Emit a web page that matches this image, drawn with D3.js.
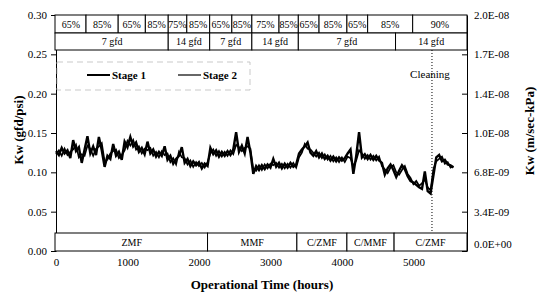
<!DOCTYPE html>
<html>
<head>
<meta charset="utf-8">
<script src="https://cdn.jsdelivr.net/npm/d3@7"></script>
<style>
  body { margin: 0; background: #fff; }
  svg text { font-family: 'Liberation Serif', 'Times New Roman', serif; fill: #000; }
</style>
</head>
<body>
<svg width="543" height="293"></svg>
<script>
var svg = d3.select('svg');
var serif = "'Liberation Serif', 'Times New Roman', serif";

// operating hours of each reading
var hours = [0,40,80,120,160,200,240,280,320,360,400,440,480,520,560,600,640,680,720,760,
  800,840,880,920,960,1000,1040,1080,1120,1160,1200,1240,1280,1320,1360,1400,1440,1480,1520,1560,
  1600,1640,1680,1720,1760,1800,1840,1880,1920,1960,2000,2040,2080,2120,2160,2200,2240,2280,2320,2360,
  2400,2440,2480,2520,2560,2600,2640,2680,2720,2760,2800,2840,2880,2920,2960,3000,3040,3080,3120,3160,
  3200,3240,3280,3320,3360,3400,3440,3480,3520,3560,3600,3640,3680,3720,3760,3800,3840,3880,3920,3960,
  4000,4040,4080,4120,4160,4200,4240,4280,4320,4360,4400,4440,4480,4520,4560,4600,4640,4680,4720,4760,
  4800,4840,4880,4920,4960,5000,5040,5080,5120,5160,5200,5240,5280,5320,5360,5400,5440,5480,5520,5560];

var stage1 = [0.127,0.122,0.131,0.124,0.128,0.118,0.141,0.127,0.132,0.112,0.129,0.146,0.124,0.133,0.122,0.145,0.128,0.107,0.121,0.117,
  0.136,0.121,0.126,0.116,0.139,0.132,0.145,0.133,0.138,0.126,0.131,0.123,0.139,0.124,0.129,0.120,0.126,0.121,0.133,0.116,
  0.121,0.111,0.117,0.121,0.132,0.112,0.117,0.108,0.114,0.109,0.113,0.105,0.111,0.108,0.131,0.123,0.128,0.120,0.126,0.121,
  0.127,0.122,0.129,0.151,0.126,0.134,0.124,0.145,0.125,0.098,0.108,0.103,0.109,0.104,0.110,0.106,0.117,0.107,0.112,0.105,
  0.111,0.106,0.112,0.107,0.110,0.124,0.129,0.133,0.138,0.125,0.121,0.127,0.119,0.124,0.117,0.121,0.115,0.120,0.114,0.119,
  0.115,0.118,0.124,0.129,0.098,0.121,0.151,0.119,0.123,0.117,0.122,0.116,0.121,0.115,0.112,0.097,0.105,0.110,0.103,0.094,
  0.102,0.109,0.104,0.095,0.089,0.087,0.084,0.081,0.079,0.101,0.076,0.073,0.096,0.119,0.122,0.114,0.116,0.110,0.109,0.106];

var stage2 = [0.123,0.128,0.121,0.130,0.122,0.126,0.129,0.135,0.119,0.123,0.121,0.134,0.130,0.121,0.130,0.133,0.137,0.114,0.116,0.124,
  0.127,0.129,0.118,0.122,0.128,0.140,0.134,0.141,0.129,0.133,0.124,0.130,0.128,0.131,0.121,0.126,0.119,0.127,0.122,0.124,
  0.113,0.118,0.110,0.126,0.119,0.118,0.110,0.115,0.107,0.113,0.108,0.112,0.106,0.113,0.124,0.129,0.121,0.127,0.120,0.126,
  0.121,0.128,0.123,0.135,0.132,0.127,0.131,0.133,0.130,0.104,0.102,0.109,0.103,0.110,0.105,0.111,0.109,0.112,0.106,0.111,
  0.105,0.111,0.106,0.112,0.106,0.119,0.125,0.136,0.130,0.129,0.125,0.120,0.125,0.118,0.123,0.116,0.121,0.114,0.119,0.113,
  0.119,0.113,0.120,0.118,0.108,0.115,0.128,0.124,0.117,0.122,0.116,0.121,0.115,0.120,0.108,0.104,0.099,0.106,0.109,0.100,
  0.097,0.103,0.108,0.098,0.093,0.085,0.089,0.083,0.086,0.091,0.081,0.077,0.104,0.114,0.117,0.120,0.111,0.113,0.106,0.108];

// tick labels
var xTicks = [0, 1000, 2000, 3000, 4000, 5000];
var yTicks = [0, 0.05, 0.10, 0.15, 0.20, 0.25, 0.30];
var rightLabels = ['0.0E+00', '3.4E-09', '6.8E-09', '1.0E-08', '1.4E-08', '1.7E-08', '2.0E-08'];

// operating conditions (band edges in hours)
var recoveryEdges = [0, 420, 870, 1250, 1570, 1830, 2150, 2460, 2740, 3120, 3390, 3680, 4070, 4360, 4990, 5750];
var recoveryLabels = ['65%','85%','65%','85%','75%','85%','65%','85%','75%','85%','65%','85%','65%','85%','90%'];
var fluxEdges = [0, 1570, 2150, 2740, 3390, 4750, 5750];
var fluxLabels = ['7 gfd','14 gfd','7 gfd','14 gfd','7 gfd','14 gfd'];
var pretreatEdges = [0, 2120, 3370, 4070, 4730, 5750];
var pretreatLabels = ['ZMF','MMF','C/ZMF','C/MMF','C/ZMF'];
var cleaningHour = 5260;

var x = d3.scaleLinear().domain([0, 5750]).range([56, 467]);
var y = d3.scaleLinear().domain([0, 0.30]).range([251, 15]);

// left axis
svg.append('g')
    .attr('transform', 'translate(56,0)')
    .call(d3.axisLeft(y).tickValues(yTicks).tickSize(5).tickSizeOuter(0).tickPadding(4).tickFormat(d3.format('.2f')))
    .call(function(g){
        g.attr('font-family', serif);
        g.selectAll('text').style('font-size', '11px');
        g.selectAll('line, path').attr('stroke', '#000');
    });

// right axis, ticks pointing in
svg.append('g')
    .attr('transform', 'translate(467,0)')
    .call(d3.axisRight(y).tickValues(yTicks).tickSize(-5).tickSizeOuter(0).tickPadding(7)
        .tickFormat(function(d, i){ return rightLabels[i]; }))
    .call(function(g){
        g.attr('font-family', serif);
        g.selectAll('text').style('font-size', '11px');
        g.selectAll('line, path').attr('stroke', '#000');
        g.selectAll('.tick').filter(function(d){ return d === 0; }).select('text').attr('dy', '-0.3em');
    });

// bottom axis labels
svg.append('g')
    .attr('transform', 'translate(0,251)')
    .call(d3.axisBottom(x).tickValues(xTicks).tickSize(0).tickPadding(7).tickFormat(d3.format('d')))
    .call(function(g){
        g.attr('font-family', serif);
        g.select('.domain').remove();
        g.selectAll('text').style('font-size', '11px');
    });

// data lines
var kwLine = d3.line()
    .x(function(d, i){ return x(hours[i]); })
    .y(function(d){ return y(d); });

svg.append('path')
    .datum(stage2)
    .attr('d', kwLine)
    .attr('fill', 'none')
    .attr('stroke', '#000')
    .attr('stroke-width', 1.7);

svg.append('path')
    .datum(stage1)
    .attr('d', kwLine)
    .attr('fill', 'none')
    .attr('stroke', '#000')
    .attr('stroke-width', 2.4);

// band rows
function band(edges, labels, y0, y1) {
    var cells = labels.map(function(l, i){ return {label: l, a: edges[i], b: edges[i + 1]}; });
    var g = svg.append('g');
    g.selectAll('rect')
        .data(cells)
        .enter()
        .append('rect')
        .attr('x', function(d){ return x(d.a) - (d.a === 0 ? 1 : 0); })
        .attr('y', y0)
        .attr('width', function(d){ return x(d.b) - x(d.a) + (d.a === 0 ? 1 : 0); })
        .attr('height', y1 - y0)
        .attr('fill', '#fff')
        .attr('stroke', '#000')
        .attr('stroke-width', 1);
    g.selectAll('text')
        .data(cells)
        .enter()
        .append('text')
        .attr('x', function(d){ return (x(d.a) + x(d.b)) / 2; })
        .attr('y', (y0 + y1) / 2)
        .attr('dy', '0.35em')
        .attr('text-anchor', 'middle')
        .attr('font-family', serif)
        .style('font-size', '10px')
        .text(function(d){ return d.label; });
}

band(recoveryEdges, recoveryLabels, 15, 33);
band(fluxEdges, fluxLabels, 33, 50);
band(pretreatEdges, pretreatLabels, 233, 251);

// cleaning marker
svg.append('line')
    .attr('x1', x(cleaningHour)).attr('x2', x(cleaningHour))
    .attr('y1', 50).attr('y2', 233)
    .attr('stroke', '#000')
    .attr('stroke-width', 1)
    .attr('stroke-dasharray', '1,2');

svg.append('text')
    .attr('x', x(cleaningHour) - 2)
    .attr('y', 78)
    .attr('text-anchor', 'middle')
    .attr('font-family', serif)
    .style('font-size', '11px')
    .text('Cleaning');

// legend
svg.append('rect')
    .attr('x', 57).attr('y', 62)
    .attr('width', 193).attr('height', 28)
    .attr('fill', 'none')
    .attr('stroke', '#bbb')
    .attr('stroke-width', 0.8)
    .attr('stroke-dasharray', '6,4');

var legend = [{name: 'Stage 1', x: 87, w: 2}, {name: 'Stage 2', x: 178, w: 1.2}];
legend.forEach(function(d){
    svg.append('line')
        .attr('x1', d.x).attr('x2', d.x + 23)
        .attr('y1', 75).attr('y2', 75)
        .attr('stroke', '#000')
        .attr('stroke-width', d.w);
    svg.append('text')
        .attr('x', d.x + 25)
        .attr('y', 75)
        .attr('dy', '0.35em')
        .attr('font-family', serif)
        .style('font-size', '11px')
        .style('font-weight', 'bold')
        .text(d.name);
});

// axis titles
svg.append('text')
    .attr('transform', 'translate(18,130) rotate(-90)')
    .attr('text-anchor', 'middle')
    .attr('dy', '0.35em')
    .attr('font-family', serif)
    .style('font-size', '13px')
    .style('font-weight', 'bold')
    .text('Kw (gfd/psi)');

svg.append('text')
    .attr('transform', 'translate(529,131) rotate(-90)')
    .attr('text-anchor', 'middle')
    .attr('dy', '0.35em')
    .attr('font-family', serif)
    .style('font-size', '13px')
    .style('font-weight', 'bold')
    .text('Kw (m/sec-kPa)');

svg.append('text')
    .attr('x', 262)
    .attr('y', 289)
    .attr('text-anchor', 'middle')
    .attr('font-family', serif)
    .style('font-size', '13px')
    .style('font-weight', 'bold')
    .text('Operational Time (hours)');
</script>
</body>
</html>
